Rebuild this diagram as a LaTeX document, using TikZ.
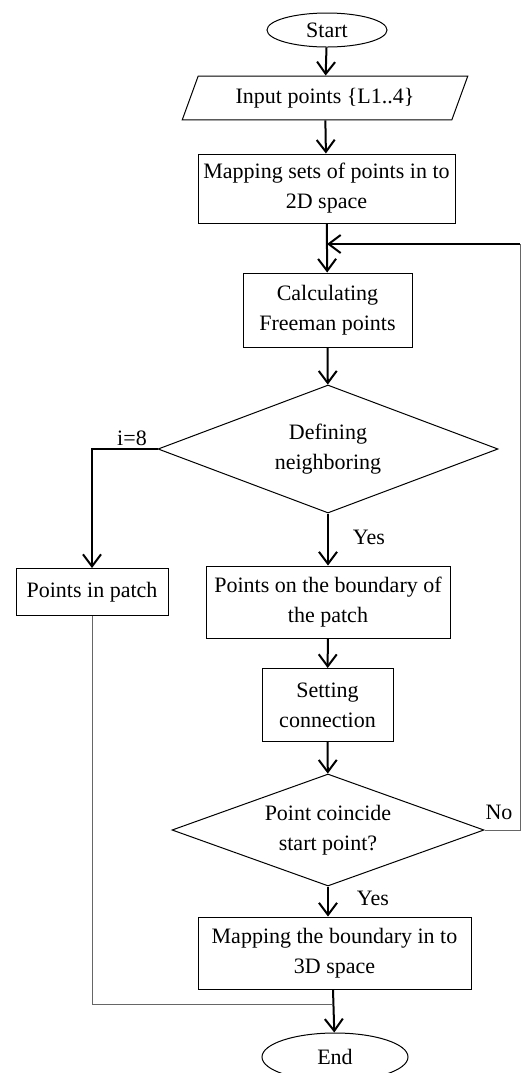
\documentclass[tikz,border=0pt]{standalone}
\usepackage{fontspec}
\setmainfont{Liberation Serif}
\usetikzlibrary{arrows.meta, positioning, shapes.geometric, calc}

\begin{document}
\begin{tikzpicture}[
    x=0.5pt, y=-0.5pt,
    every node/.style={font=\fontsize{11}{15}\selectfont},
    proc/.style={draw, line width=0.5pt, align=center, inner sep=2pt},
    term/.style={draw, ellipse, line width=0.5pt, inner sep=0pt},
    io/.style={draw, trapezium, trapezium left angle=70,
               trapezium right angle=110, line width=0.5pt},
    decide/.style={draw, diamond, aspect=2.6, align=center,
                   line width=0.5pt, inner sep=0pt},
    flow/.style={line width=1pt, -{Straight Barb[length=6pt, width=9pt]}},
    thin/.style={line width=0.5pt, black!60},
    lbl/.style={inner sep=1pt}
  ]
  \useasboundingbox (0,0) rectangle (521,1073);

  % Main column
  \node[term, minimum width=60pt, minimum height=17pt] (start) at (327,30) {Start};
  \node[io, minimum width=143pt, minimum height=15pt] (input) at (325,98)
    {Input points \{L1..4\}};
  \node[proc, minimum width=128.5pt, minimum height=34.5pt] (map2d) at (326.5,188.5)
    {Mapping sets of points in to\\2D space};
  \node[proc, minimum width=84.5pt, minimum height=37pt] (calc) at (327.5,310)
    {Calculating\\Freeman points};
  \node[decide, minimum width=170pt, minimum height=64pt] (defn) at (328,449)
    {Defining\\neighboring};
  \node[proc, minimum width=122pt, minimum height=36pt] (bound) at (328,602)
    {Points on the boundary of\\the patch};
  \node[proc, minimum width=65.5pt, minimum height=36.5pt] (setconn) at (327.5,705)
    {Setting\\connection};
  \node[decide, minimum width=156pt, minimum height=56pt] (coinc) at (328,830)
    {Point coincide\\start point?};
  \node[proc, minimum width=136.5pt, minimum height=36pt] (map3d) at (334.5,953)
    {Mapping the boundary in to\\3D space};
  \node[term, minimum width=73pt, minimum height=24pt] (finish) at (335,1057) {End};

  % Side branch
  \node[proc, minimum width=76pt, minimum height=23.5pt] (inpatch) at (92,592)
    {Points in patch};

  \coordinate (join) at (327,244);
  \coordinate (fbk) at (520,244);
  \coordinate (merge) at (333,1004);

  % Connectors
  \draw[flow] (start) -- (input);
  \draw[flow] (input) -- (map2d);
  \draw[flow] (map2d) -- (calc);
  \draw[flow] (calc) -- (defn);
  \draw[flow] (defn) -- (bound);
  \draw[flow] (bound) -- (setconn);
  \draw[flow] (setconn) -- (coinc);
  \draw[flow] (coinc.south) -- (coinc.south |- map3d.north);
  \draw[flow] (map3d.south -| merge) -- (finish);
  \draw[flow] (defn.west) -| (inpatch.north);
  \draw[thin] (coinc.east) -| (fbk);
  \draw[flow] (fbk) -- (join);
  \draw[thin] (inpatch.south) |- (merge);

  % Labels
  \node[lbl] (lbli) at (132,438) {i=8};
  \node[lbl] (lblyes) at (369,537) {Yes};
  \node[lbl] (lblno) at (499,812) {No};
  \node[lbl] (lblyes2) at (373,898) {Yes};
\end{tikzpicture}
\end{document}
